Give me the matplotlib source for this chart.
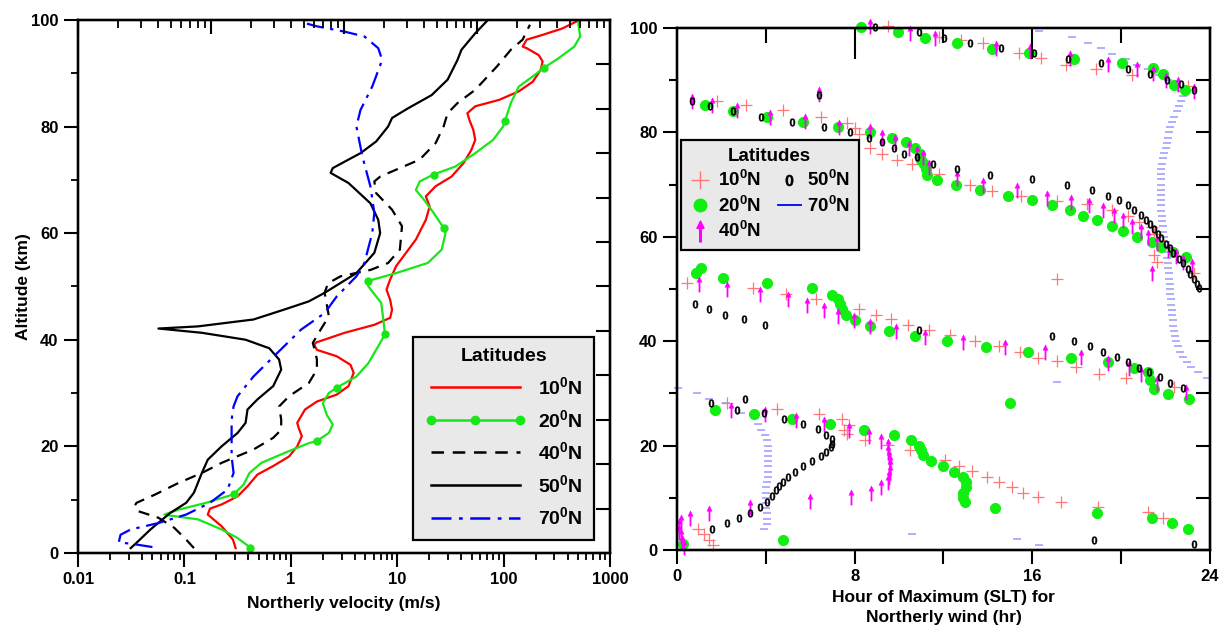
import numpy as np
import matplotlib
matplotlib.use('Agg')
import matplotlib.pyplot as plt
from matplotlib.lines import Line2D
from matplotlib.path import Path
from matplotlib.ticker import LogLocator, MultipleLocator, NullFormatter

plt.rcParams['font.family'] = ['Liberation Sans', 'DejaVu Sans']
plt.rcParams['font.weight'] = 'bold'
plt.rcParams['axes.labelweight'] = 'bold'
plt.rcParams['mathtext.fontset'] = 'custom'
plt.rcParams['mathtext.rm'] = 'Liberation Sans:bold'
plt.rcParams['mathtext.bf'] = 'Liberation Sans:bold'
plt.rcParams['mathtext.default'] = 'rm'

# ---- left panel: northerly velocity profiles (altitude km, velocity m/s)
prof_10n = [(0.9, 0.303), (2.5, 0.286), (5.0, 0.224), (7.2, 0.166), (8.3, 0.174), (9.1, 0.224),
            (10.6, 0.316), (12.5, 0.392), (14.7, 0.486), (16.3, 0.684), (18.1, 0.964), (20.0, 1.15),
            (21.9, 1.27), (23.4, 1.19), (24.4, 1.15), (26.9, 1.36), (28.4, 1.76), (29.7, 2.70),
            (31.3, 3.49), (33.8, 3.90), (35.3, 3.64), (36.9, 2.70), (38.1, 1.76), (39.1, 1.66),
            (39.5, 1.74), (41.3, 3.21), (42.8, 6.10), (44.1, 8.59), (45.6, 8.95), (47.5, 8.59),
            (49.4, 7.94), (51.3, 8.59), (53.8, 9.77), (58.8, 15.0), (62.5, 18.6), (65.0, 20.2),
            (66.9, 18.6), (68.8, 23.0), (70.6, 32.4), (73.1, 41.9), (75.6, 49.8), (77.5, 54.2),
            (79.4, 51.9), (81.3, 47.6), (82.5, 45.7), (83.8, 54.2), (85.0, 90.8), (86.6, 139),
            (88.4, 188), (90.6, 223), (92.2, 233), (93.4, 214), (94.7, 165), (95.0, 151),
            (96.3, 165), (97.2, 233), (98.4, 357), (99.7, 483)]
prof_20n = [(1.0, 0.417), (2.8, 0.316), (4.4, 0.224), (6.3, 0.134), (7.0, 0.0736), (7.2, 0.0649),
            (8.1, 0.0875), (9.4, 0.160), (11.0, 0.290), (12.8, 0.360), (15.0, 0.409), (16.9, 0.530),
            (18.8, 0.885), (20.6, 1.48), (21.0, 1.76), (22.5, 2.28), (24.1, 2.48), (25.9, 2.18),
            (28.1, 2.00), (30.0, 2.28), (31.0, 2.70), (33.1, 4.14), (35.6, 5.36), (39.4, 6.92),
            (41.0, 7.67), (43.8, 7.41), (46.9, 7.08), (50.0, 5.36), (51.0, 5.27), (52.5, 9.77),
            (54.4, 19.4), (56.9, 26.2), (60.0, 28.5), (61.0, 27.3), (63.8, 22.0), (66.3, 17.8),
            (68.1, 15.0), (69.7, 16.3), (71.0, 22.0), (72.5, 35.3), (75.0, 54.2), (77.5, 79.8),
            (80.0, 98.9), (81.0, 103), (84.4, 117), (87.5, 139), (89.4, 188), (91.0, 239),
            (92.8, 328), (95.0, 462), (96.9, 525), (99.7, 501)]
marker_alt_20n = [1.0, 11.0, 21.0, 31.0, 41.0, 51.0, 61.0, 71.0, 81.0, 91.0]
prof_40n = [(0.9, 0.123), (2.5, 0.104), (4.7, 0.0804), (6.6, 0.0570), (7.8, 0.0372), (8.8, 0.0340),
            (9.4, 0.0355), (10.9, 0.0524), (13.1, 0.0875), (15.0, 0.146), (16.9, 0.224), (19.4, 0.446),
            (21.6, 0.684), (23.1, 0.813), (25.0, 0.813), (27.5, 0.778), (29.4, 0.964), (31.9, 1.48),
            (34.4, 1.76), (36.3, 1.76), (38.1, 1.68), (39.4, 1.61), (41.9, 1.91), (44.4, 2.28),
            (46.6, 2.18), (48.8, 2.08), (50.6, 2.24), (51.9, 2.94), (53.1, 5.62), (54.4, 8.22),
            (56.9, 10.6), (61.3, 11.1), (64.4, 8.95), (67.5, 6.35), (69.7, 6.10), (70.6, 6.92),
            (71.9, 9.77), (73.8, 16.3), (76.9, 23.0), (80.0, 27.3), (82.5, 29.8), (84.4, 36.9),
            (86.9, 54.2), (91.3, 86.9), (94.4, 117), (96.3, 151), (99.1, 177)]
prof_50n = [(0.9, 0.0313), (1.9, 0.0355), (4.4, 0.048), (7.5, 0.0736), (9.4, 0.104), (11.3, 0.123),
            (15.0, 0.146), (17.5, 0.166), (20.0, 0.224), (22.5, 0.316), (24.4, 0.376), (26.9, 0.392),
            (28.8, 0.486), (31.3, 0.684), (34.4, 0.813), (36.3, 0.776), (38.4, 0.628), (40.0, 0.376),
            (41.3, 0.146), (42.1, 0.0570), (42.5, 0.134), (43.8, 0.447), (45.6, 0.85), (47.2, 1.48),
            (48.8, 2.08), (52.5, 4.14), (56.3, 6.10), (60.0, 6.92), (62.5, 6.64), (65.6, 5.60),
            (69.4, 3.49), (71.3, 2.37), (72.2, 2.48), (73.8, 3.49), (75.0, 4.52), (77.2, 6.35),
            (80.0, 8.22), (81.6, 8.95), (83.4, 12.6), (85.9, 21.1), (88.8, 29.8), (92.5, 36.9),
            (94.4, 40.2), (97.5, 54.2), (100.0, 71.3)]
prof_70n = [(1.1, 0.0501), (1.6, 0.0347), (2.0, 0.0242), (3.4, 0.0251), (4.4, 0.0313), (5.6, 0.0570),
            (7.2, 0.104), (9.4, 0.174), (11.9, 0.255), (15.0, 0.290), (18.1, 0.278), (21.3, 0.278),
            (25.0, 0.278), (27.5, 0.290), (29.4, 0.316), (33.1, 0.446), (37.5, 0.746), (41.9, 1.25),
            (45.0, 2.08), (48.1, 2.70), (51.9, 4.14), (54.4, 4.92), (60.0, 5.83), (63.8, 6.10),
            (68.8, 5.60), (74.4, 4.71), (80.0, 4.14), (83.1, 4.52), (87.5, 5.83), (92.5, 7.23),
            (94.7, 6.64), (96.9, 4.92), (97.8, 3.21), (98.8, 1.76), (99.3, 1.42)]

# ---- right panel: hour of maximum (hour SLT, altitude km)
hr_10n = [(9.5, 100.3), (11.8, 98.2), (12.8, 97.7), (13.8, 97.1), (15.4, 95.2), (16.4, 94.2),
          (17.5, 93.0), (18.85, 92.1), (20.5, 91.0), (23.0, 88.8),
          (1.81, 86.1), (3.1, 85.2), (4.76, 84.2), (6.5, 82.9), (7.67, 81.7), (8.0, 80.8), (8.2, 79.7),
          (8.7, 77.1), (9.24, 75.9), (9.9, 74.8), (10.6, 74.0), (11.8, 72.1), (13.2, 70.0), (14.2, 68.8),
          (15.5, 67.9), (17.1, 66.9), (18.46, 66.2), (19.6, 65.1), (20.3, 64.0), (20.8, 62.9),
          (21.4, 61.8), (21.5, 60.6), (21.7, 59.4), (21.5, 56.5), (21.6, 55.2), (23.3, 53.1), (17.1, 52.0),
          (0.43, 51.2), (3.42, 50.1), (4.9, 49.1), (6.25, 48.1), (8.2, 46.2), (8.98, 45.1), (9.64, 44.2),
          (10.4, 43.1), (11.34, 42.1), (12.3, 41.1), (13.4, 40.0), (14.5, 39.0), (15.46, 37.9),
          (16.25, 36.8), (17.1, 36.2), (17.98, 35.0), (19.0, 33.8), (20.2, 32.9), (22.4, 31.3),
          (2.24, 28.2), (4.52, 27.1), (6.4, 26.0), (7.43, 25.0), (7.75, 23.9), (7.5, 23.0), (7.67, 22.3),
          (8.46, 21.1), (9.5, 20.1), (10.5, 19.1), (12.08, 17.2), (12.7, 16.1), (13.3, 15.2),
          (13.97, 14.0), (14.5, 13.1), (15.07, 12.1), (15.6, 11.0), (16.25, 10.1), (17.3, 9.1),
          (18.96, 8.2), (21.2, 7.3), (21.9, 6.2), (0.94, 4.0), (1.2, 3.0), (1.45, 2.0), (1.6, 0.9)]
hr_20n = [(8.3, 100.2), (9.95, 99.2), (11.18, 98.1), (12.63, 97.1), (14.17, 96.0), (15.86, 95.2),
          (17.87, 94.1), (20.03, 93.2), (21.42, 92.3), (21.89, 91.2), (22.39, 89.0), (22.87, 88.1),
          (1.26, 85.2), (2.52, 84.1), (4.05, 82.9), (5.67, 81.9), (7.24, 81.0), (8.69, 80.0), (9.67, 79.0),
          (10.3, 78.1), (10.74, 77.0), (10.93, 75.9), (11.0, 74.8), (11.13, 73.9), (11.2, 72.9),
          (11.24, 71.9), (11.7, 70.8), (12.55, 69.9), (13.65, 68.9), (14.9, 67.9), (16.0, 67.0),
          (16.9, 66.0), (17.7, 65.1), (18.3, 64.0), (18.9, 63.2), (19.6, 62.1), (20.1, 61.1), (20.7, 60.0),
          (21.4, 59.0), (21.8, 58.1), (22.35, 57.1), (22.9, 56.2),
          (0.85, 53.1), (1.06, 54.0), (2.05, 52.1), (4.05, 51.2), (6.1, 50.1), (6.99, 48.9), (7.24, 48.0),
          (7.35, 47.2), (7.45, 46.1), (7.59, 45.1), (8.03, 44.0), (8.69, 43.0), (9.53, 41.9), (10.7, 40.9),
          (12.16, 40.0), (13.92, 38.8), (15.8, 37.9), (17.75, 36.8), (19.4, 36.0), (20.6, 34.9),
          (21.2, 34.1), (21.3, 32.5), (21.5, 30.9), (22.1, 29.9), (23.06, 29.0),
          (1.73, 26.9), (3.46, 26.0), (5.2, 25.0), (6.88, 24.1), (8.43, 23.0), (9.75, 22.0), (10.55, 21.1),
          (10.9, 19.9), (11.0, 19.1), (11.1, 18.2), (11.45, 17.1), (11.97, 16.0), (12.47, 15.0),
          (12.9, 13.9), (13.0, 13.0), (13.0, 12.0), (12.9, 11.0), (12.87, 10.0), (12.95, 9.1), (14.3, 8.0),
          (15.0, 28.1), (18.9, 7.0), (21.4, 6.1), (22.3, 5.1), (22.99, 4.0), (4.79, 2.0), (0.27, 1.1)]
hr_40n = [(8.7, 100.3), (10.5, 99.0), (11.6, 98.1), (14.36, 96.1), (15.9, 95.5), (17.7, 94.2),
          (19.4, 93.1), (20.7, 92.1), (21.45, 91.3), (22.0, 90.0), (22.55, 89.2), (23.26, 87.9),
          (0.66, 86.1), (1.57, 85.2), (2.7, 84.2), (4.2, 82.9), (5.78, 82.1), (7.28, 81.1), (6.38, 87.3),
          (8.7, 80.2), (9.24, 79.2), (9.8, 78.1), (10.47, 77.1), (10.8, 76.1), (11.1, 75.2), (11.37, 73.4),
          (12.6, 71.2), (13.8, 70.0), (15.3, 69.0), (16.65, 67.4), (17.75, 66.7), (18.57, 66.1),
          (19.2, 65.1), (19.7, 64.2), (20.1, 63.2), (20.5, 62.1), (20.9, 61.1), (21.2, 60.0), (21.6, 58.8),
          (22.1, 57.4), (22.45, 56.3), (22.8, 55.2), (23.2, 54.4), (21.4, 53.1),
          (1.0, 51.0), (2.24, 49.9), (3.73, 49.1), (4.99, 48.0), (5.86, 47.0), (6.6, 45.9), (7.27, 44.9),
          (7.98, 44.0), (8.69, 42.9), (9.87, 41.9), (11.17, 40.8), (12.87, 39.9), (14.76, 38.8),
          (16.57, 37.9), (18.2, 36.9), (19.4, 35.8), (20.35, 34.9), (20.9, 33.7), (21.6, 31.9), (22.9, 30.3),
          (0.19, 5.4), (0.1, 4.5), (0.1, 3.5), (0.16, 2.6), (0.22, 1.6), (0.31, 0.6), (0.58, 6.1),
          (1.42, 7.0), (3.3, 8.3), (5.98, 9.3), (7.83, 10.1), (8.72, 11.0), (9.17, 12.0), (9.5, 13.1),
          (9.56, 14.0), (9.6, 15.0), (9.6, 16.0), (9.59, 16.9), (9.56, 17.9), (9.51, 18.8), (9.5, 19.9),
          (9.2, 20.9), (8.65, 21.8), (7.75, 23.0), (6.6, 24.1), (5.34, 24.9), (3.97, 26.0), (2.43, 26.9)]
hr_50n = [(8.93, 100.2), (10.9, 99.2), (12.03, 98.1), (13.2, 97.1), (14.6, 96.1), (16.06, 95.2),
          (17.6, 94.1), (19.1, 93.2), (20.3, 92.1), (21.3, 91.2), (22.05, 90.1), (22.7, 89.2), (23.3, 88.1),
          (0.66, 86.1), (1.48, 85.0), (2.52, 84.1), (3.78, 82.9), (5.2, 81.9), (6.6, 81.0), (7.78, 80.0),
          (8.66, 79.0), (9.21, 78.1), (9.75, 77.0), (10.24, 75.9), (10.82, 75.2), (11.53, 73.9),
          (6.41, 87.1), (12.63, 72.9), (14.1, 71.9), (16.0, 71.0), (17.56, 70.0), (18.7, 68.9),
          (19.4, 67.8), (19.9, 67.0), (20.3, 66.1), (20.6, 65.1), (20.9, 64.2), (21.1, 63.2), (21.3, 62.4),
          (21.5, 61.5), (21.65, 60.6), (21.8, 59.7), (22.0, 58.7), (22.2, 57.8), (22.35, 56.8),
          (22.6, 55.8), (22.8, 54.9), (23.0, 53.9), (23.1, 52.9), (23.3, 52.0), (23.4, 51.0), (23.5, 50.1),
          (0.82, 47.2), (1.42, 46.1), (2.16, 45.1), (3.02, 44.2), (3.97, 43.1), (10.9, 42.1), (16.9, 41.0),
          (17.86, 40.0), (18.58, 39.0), (19.2, 38.0), (19.8, 36.9), (20.3, 36.0), (20.8, 34.9),
          (21.26, 34.0), (21.73, 33.1), (22.2, 31.9), (22.8, 31.0),
          (1.53, 28.1), (3.07, 29.0), (2.7, 26.9), (3.9, 26.2), (4.83, 25.0), (5.67, 24.1), (6.33, 23.1),
          (6.72, 22.1), (6.96, 21.2), (6.96, 20.3), (6.93, 19.7), (6.72, 18.8), (6.5, 18.0), (6.1, 17.1),
          (5.67, 16.0), (5.3, 15.0), (4.99, 14.0), (4.76, 13.1), (4.6, 12.3), (4.44, 11.4), (4.28, 10.3),
          (4.05, 9.1), (3.73, 8.2), (3.3, 7.1), (2.79, 6.1), (2.24, 5.1), (1.57, 4.0), (18.8, 2.0), (23.3, 1.1)]
hr_70n = [(16.3, 99.4), (17.8, 98.3), (18.5, 97.1), (19.1, 96.1), (19.6, 95.1), (20.2, 94.0), (20.7, 93.0),
          (21.2, 92.1), (21.7, 91.0), (22.1, 90.0), (22.4, 89.0), (22.7, 88.0), (22.8, 87.0), (22.7, 86.0),
          (22.6, 85.0), (22.5, 84.0), (22.4, 83.0), (22.3, 82.0), (22.2, 81.0), (22.15, 80.0), (22.1, 79.0),
          (22.05, 78.0), (22.0, 77.0), (21.95, 76.0), (21.9, 75.0), (21.85, 74.0), (21.8, 73.0),
          (21.8, 72.0), (21.8, 71.0), (21.78, 70.0), (21.78, 69.0), (21.78, 68.0), (21.8, 67.0),
          (21.8, 66.0), (21.8, 65.0), (21.82, 64.0), (21.85, 63.0), (21.88, 62.0), (21.9, 61.0),
          (21.95, 60.0), (22.0, 59.0), (22.02, 58.0), (22.05, 57.0), (22.08, 56.0), (22.1, 55.0),
          (22.12, 54.0), (22.15, 53.0), (22.17, 52.0), (22.2, 51.0), (22.2, 50.0), (22.22, 49.0),
          (22.23, 48.0), (22.25, 47.0), (22.27, 46.0), (22.3, 45.0), (22.32, 44.0), (22.35, 43.0),
          (22.38, 42.0), (22.42, 41.0), (22.47, 40.0), (22.55, 39.0), (22.65, 38.0), (22.8, 37.0),
          (22.95, 36.0), (23.15, 35.0), (23.45, 34.0), (23.85, 33.0), (17.1, 32.2),
          (0.05, 31.0), (0.9, 30.0), (1.45, 29.0), (2.2, 28.2), (2.9, 26.2), (3.5, 25.2), (3.65, 24.2),
          (3.8, 23.0), (3.95, 22.0), (4.05, 21.0), (4.1, 20.0), (4.1, 19.0), (4.12, 18.0), (4.12, 17.0),
          (4.12, 16.0), (4.1, 15.0), (4.08, 14.0), (4.05, 13.0), (4.03, 12.0), (4.0, 11.0), (4.0, 10.0),
          (4.0, 9.0), (4.02, 8.0), (4.05, 7.0), (4.05, 6.0), (4.05, 5.0), (3.9, 4.0),
          (10.6, 3.0), (15.3, 2.1), (16.3, 1.0)]

lat_labels = ['10$^0$N', '20$^0$N', '40$^0$N', '50$^0$N', '70$^0$N']
vel_ticks = [0.01, 0.1, 1, 10, 100, 1000]
vel_ticklabels = ['0.01', '0.1', '1', '10', '100', '1000']
hour_ticks = [0, 4, 8, 12, 16, 20, 24]
hour_ticklabels = ['0', '', '8', '', '16', '', '24']

# colours
c_red = '#ff0000'
c_green = '#19e619'
c_blue = '#0000ff'
c_red_pt = '#ff7777'
c_mag = '#ff00ff'
c_blue_pt = '#8c8cff'

# arrow marker for 40N
arrow_verts = [(-0.08, -1.0), (0.08, -1.0), (0.08, 0.3), (0.34, 0.3), (0.0, 1.0),
               (-0.34, 0.3), (-0.08, 0.3), (-0.08, -1.0)]
arrow_codes = [Path.MOVETO] + [Path.LINETO] * 6 + [Path.CLOSEPOLY]
arrow_marker = Path(arrow_verts, arrow_codes)

fig = plt.figure(figsize=(12.3, 6.37), dpi=100)
ax1 = fig.add_axes([0.0634, 0.132, 0.4325, 0.8367])
ax2 = fig.add_axes([0.5504, 0.1366, 0.4333, 0.8195])

# ================= left panel =================
a, v = np.array(prof_10n).T
ax1.plot(v, a, color=c_red, lw=1.6)
a, v = np.array(prof_20n).T
ax1.plot(v, a, color=c_green, lw=1.6)
mk = np.isin(a, marker_alt_20n)
ax1.plot(v[mk], a[mk], ls='none', marker='o', ms=5, color=c_green)
a, v = np.array(prof_40n).T
ax1.plot(v, a, color='black', lw=1.6, ls=(0, (5, 3.5)))
a, v = np.array(prof_50n).T
ax1.plot(v, a, color='black', lw=1.6)
a, v = np.array(prof_70n).T
ax1.plot(v, a, color=c_blue, lw=1.6, ls=(0, (8, 3, 1.5, 3)))

ax1.set_xscale('log')
ax1.set_xlim(0.01, 1000)
ax1.set_ylim(0, 100)
ax1.set_xticks(vel_ticks)
ax1.set_xticklabels(vel_ticklabels)
ax1.xaxis.set_minor_locator(LogLocator(base=10, subs=np.arange(2, 10)))
ax1.xaxis.set_minor_formatter(NullFormatter())
ax1.set_yticks(range(0, 101, 20))
ax1.yaxis.set_minor_locator(MultipleLocator(10))
ax1.tick_params(which='major', direction='out', length=10, width=1.5, labelsize=12, pad=4)
ax1.tick_params(which='minor', direction='out', length=5, width=1.3)
ax1.set_xlabel('Northerly velocity (m/s)', fontsize=12.5, labelpad=6)
ax1.set_ylabel('Altitude (km)', fontsize=12.5, labelpad=0)

top1 = ax1.twiny()
top1.set_xscale('log')
top1.set_xlim(0.01, 100)
top1.xaxis.set_minor_locator(LogLocator(base=10, subs=np.arange(2, 10)))
top1.tick_params(axis='x', which='major', direction='in', length=10, width=1.5, labeltop=False)
top1.tick_params(axis='x', which='minor', direction='in', length=6, width=1.3)
right1 = ax1.twinx()
right1.set_ylim(0, 100)
right1.set_yticks(np.linspace(0, 100, 13))
right1.tick_params(axis='y', direction='in', length=10, width=1.5, labelright=False)
for axx in (ax1, top1, right1):
    for s in axx.spines.values():
        s.set_linewidth(1.6)

h1 = [Line2D([], [], color=c_red, lw=1.8),
      Line2D([], [], color=c_green, lw=1.8, marker='o', ms=6),
      Line2D([], [], color='black', lw=1.8, ls=(0, (5, 3.5))),
      Line2D([], [], color='black', lw=1.8),
      Line2D([], [], color=c_blue, lw=1.8, ls=(0, (8, 3, 1.5, 3)))]
leg1 = right1.legend(h1, lat_labels, title='Latitudes', loc='lower right',
                     bbox_to_anchor=(0.97, 0.024), borderaxespad=0, fontsize=14,
                     title_fontsize=14, handlelength=5.2, numpoints=3, labelspacing=0.55,
                     handletextpad=0.6, borderpad=0.6, fancybox=False, framealpha=1)
leg1.get_frame().set_facecolor('#e9e9e9')
leg1.get_frame().set_edgecolor('black')
leg1.get_frame().set_linewidth(1.6)
leg1.get_title().set_fontweight('bold')

# ================= right panel =================
h, a = np.array(hr_70n).T
ax2.plot(h, a, ls='none', marker='_', ms=6, mew=1.4, color=c_blue_pt, alpha=0.7, clip_on=False)
h, a = np.array(hr_10n).T
ax2.plot(h, a, ls='none', marker='+', ms=9, mew=0.9, color=c_red_pt, clip_on=False)
h, a = np.array(hr_20n).T
ax2.plot(h, a, ls='none', marker='o', ms=7, color='#11ee11', clip_on=False)
h, a = np.array(hr_40n).T
ax2.plot(h, a, ls='none', marker=arrow_marker, ms=11, color=c_mag, mew=0.3, clip_on=False)
h, a = np.array(hr_50n).T
ax2.plot(h, a, ls='none', marker='$0$', ms=5.5, mew=0.3, color='black', clip_on=False)

ax2.set_xlim(0, 24)
ax2.set_ylim(0, 100)
ax2.set_xticks(hour_ticks)
ax2.set_xticklabels(hour_ticklabels)
ax2.set_yticks(range(0, 101, 20))
ax2.yaxis.set_minor_locator(MultipleLocator(10))
ax2.tick_params(which='major', direction='out', length=10, width=1.5, labelsize=12, pad=4)
ax2.tick_params(which='minor', direction='out', length=6, width=1.5)
ax2.set_xlabel('Hour of Maximum (SLT) for\nNortherly wind (hr)', fontsize=12.5, labelpad=4,
               linespacing=1.45)

top2 = ax2.twiny()
top2.set_xlim(0, 24)
top2.set_xticks([8, 16])
top2.set_xticks([4, 12, 20], minor=True)
top2.tick_params(axis='x', which='major', direction='in', length=22, width=1.5, labeltop=False)
top2.tick_params(axis='x', which='minor', direction='in', length=11, width=1.5)
right2 = ax2.twinx()
right2.set_ylim(0, 100)
right2.set_yticks(range(0, 101, 10))
right2.tick_params(axis='y', direction='in', length=10, width=1.5, labelright=False)
for axx in (ax2, top2, right2):
    for s in axx.spines.values():
        s.set_linewidth(1.6)

h2 = [Line2D([], [], ls='none', marker='+', ms=13, mew=1.0, color=c_red_pt),
      Line2D([], [], ls='none', marker='o', ms=9, color='#11ee11'),
      Line2D([], [], ls='none', marker=arrow_marker, ms=15, color=c_mag),
      Line2D([], [], ls='none', marker='$0$', ms=8, mew=0.3, color='black'),
      Line2D([], [], color=c_blue, lw=1.3)]
leg2 = right2.legend(h2, lat_labels, title='Latitudes', loc='upper left',
                     bbox_to_anchor=(0.007, 0.786), borderaxespad=0, ncol=2, fontsize=13.5,
                     title_fontsize=13.5, handlelength=1.2, labelspacing=0.28, columnspacing=0.9,
                     handletextpad=0.35, borderpad=0.45, fancybox=False, framealpha=1)
leg2.get_frame().set_facecolor('#e9e9e9')
leg2.get_frame().set_edgecolor('black')
leg2.get_frame().set_linewidth(1.6)
leg2.get_title().set_fontweight('bold')

fig.savefig('out.png', dpi=100)
